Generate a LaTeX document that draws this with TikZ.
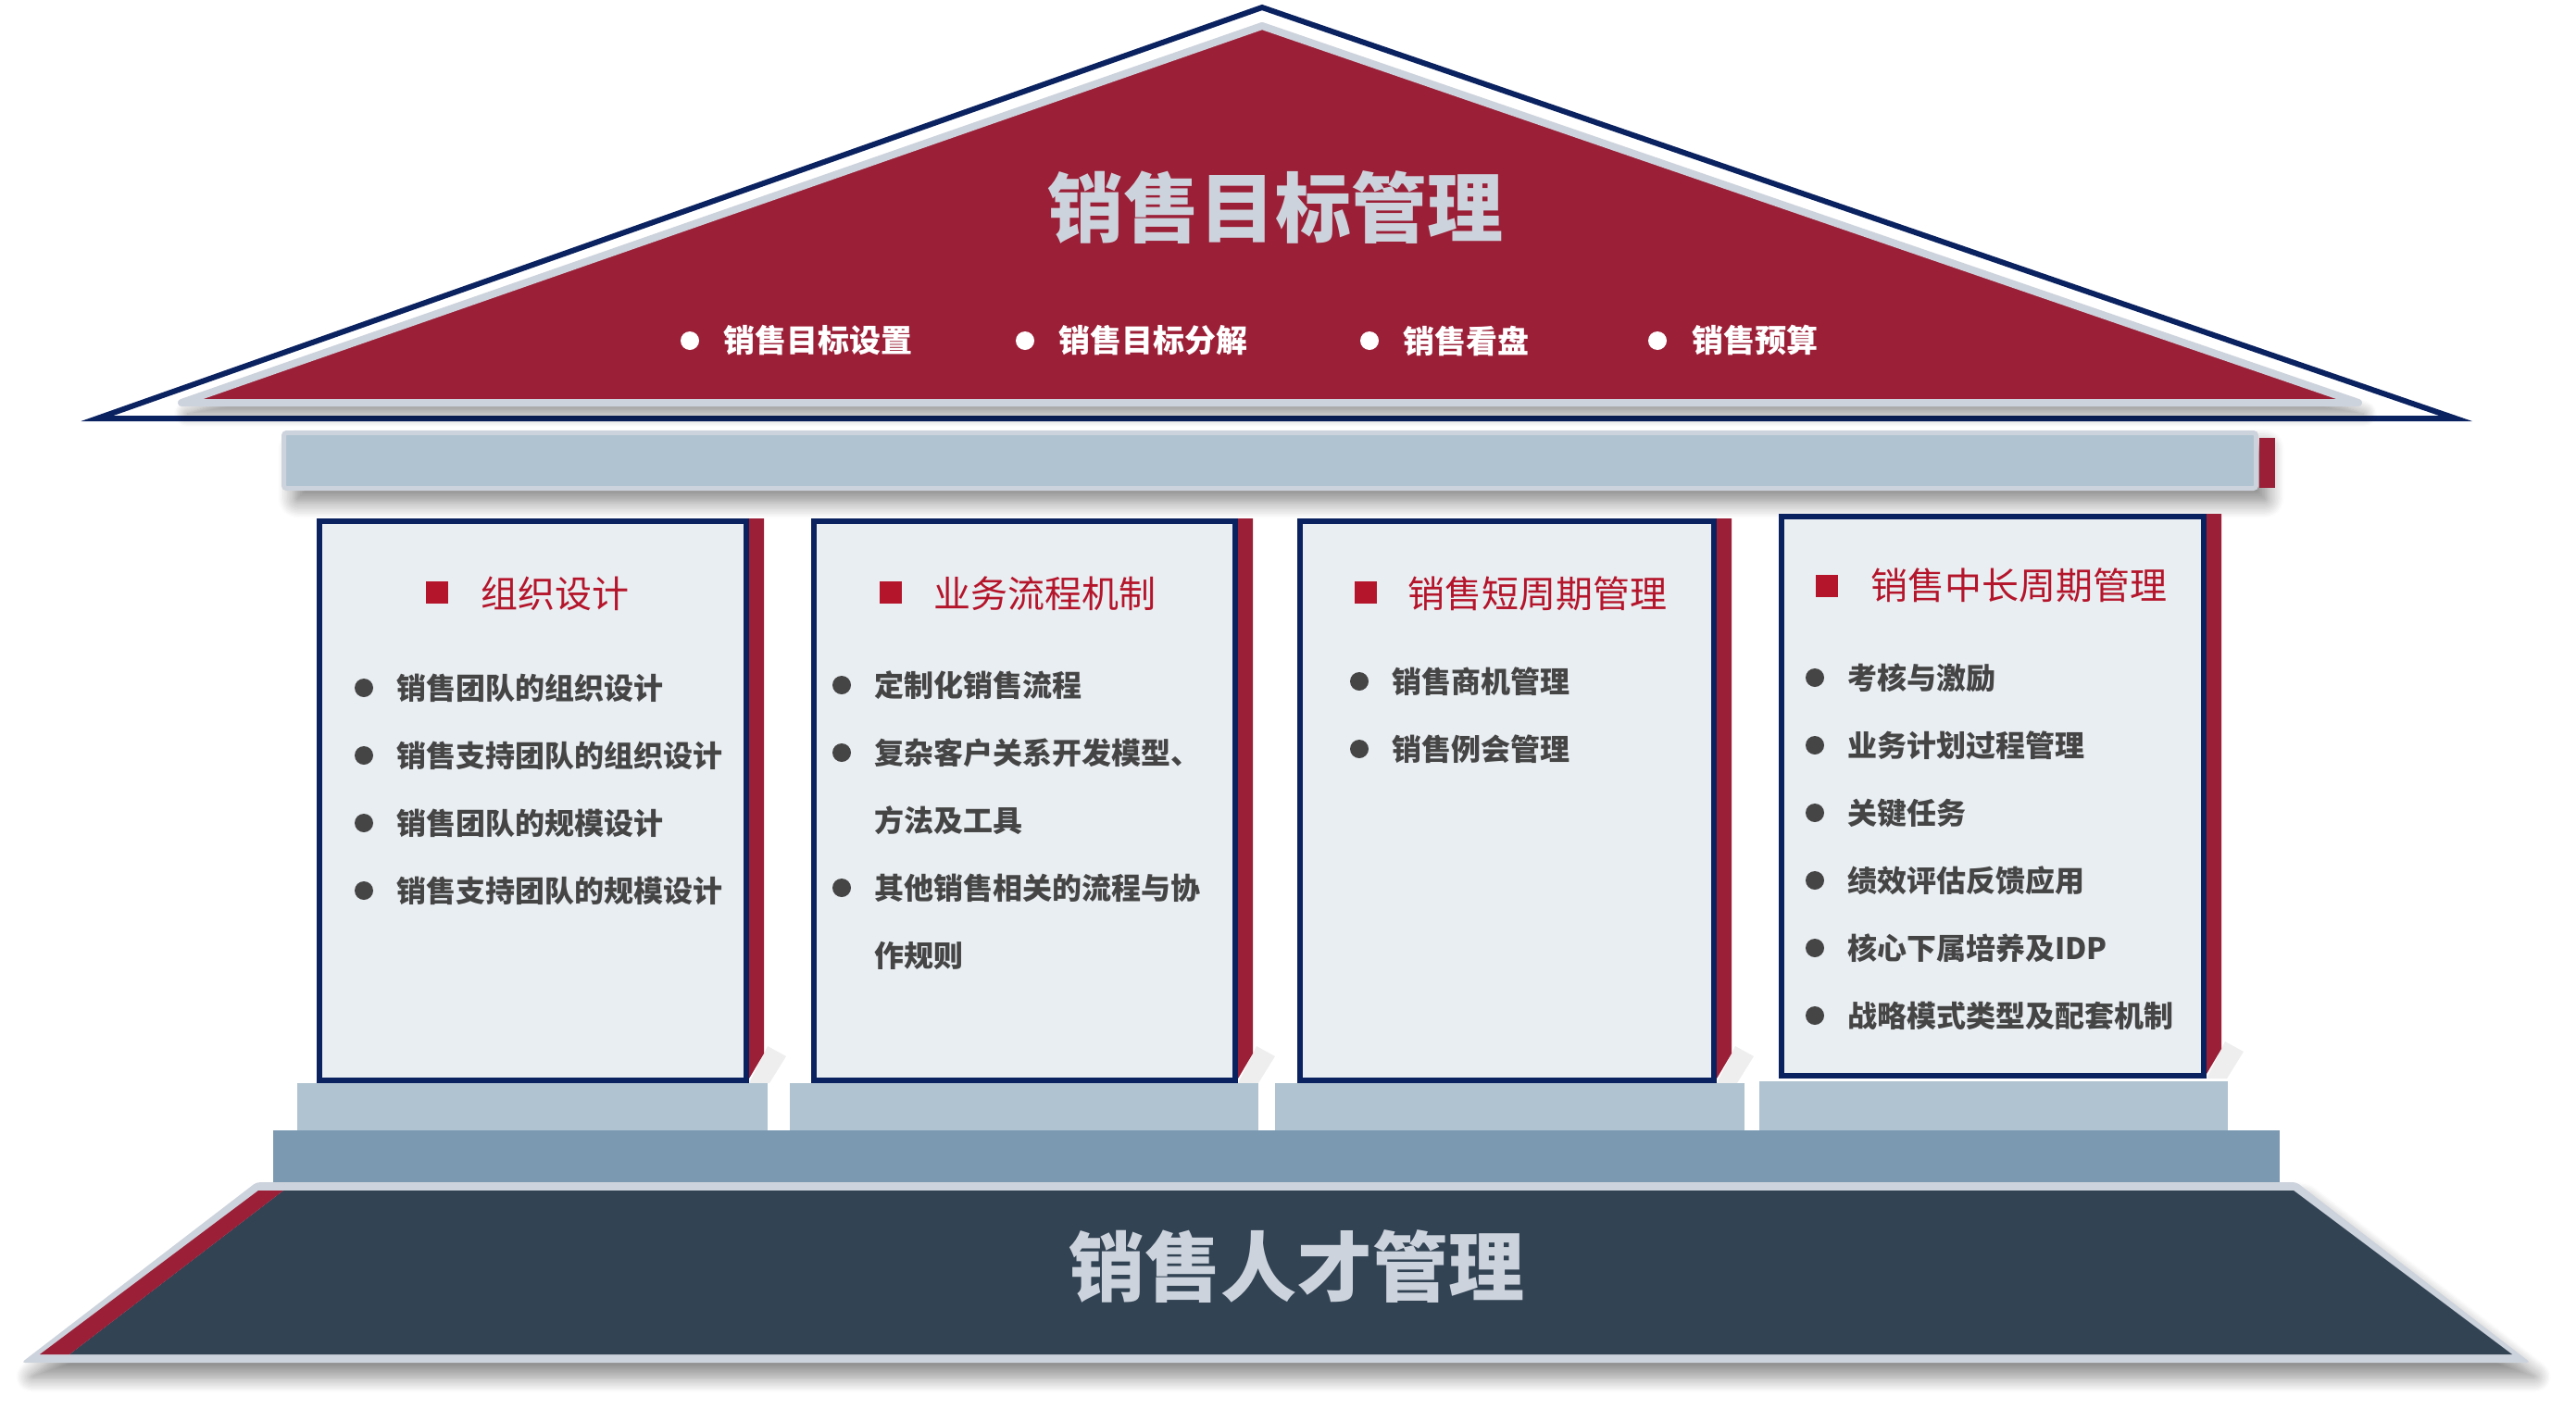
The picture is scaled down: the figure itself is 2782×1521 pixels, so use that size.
\documentclass[tikz,border=0pt]{standalone}
\usepackage{fontspec}
\newfontfamily\cjk{Noto Sans CJK SC}
\usetikzlibrary{shadows.blur}
\definecolor{navy}{HTML}{0B2260}
\definecolor{crim}{HTML}{9B1F37}
\definecolor{headred}{HTML}{B5152B}
\definecolor{lgray}{HTML}{CDD3DC}
\definecolor{beamc}{HTML}{B0C3D1}
\definecolor{stepc}{HTML}{7B9AB2}
\definecolor{found}{HTML}{324354}
\definecolor{pfill}{HTML}{E9EEF2}
\definecolor{itemc}{HTML}{454545}
\definecolor{ghost}{HTML}{EEEEEE}
\newcommand{\pillarbox}[4]{% L, R, T, B
  \fill[ghost] ({#2+20},{#4-40}) -- ({#2+40},{#4-29}) -- ({#2+22},#4) -- (#2,#4) -- cycle;
  \fill[crim] (#2,#3) -- ({#2+16},#3) -- ({#2+16},{#4-32}) -- (#2,{#4-5}) -- cycle;
  \draw[navy, line width=6pt, fill=pfill] ({#1+3},{#3+3}) rectangle ({#2-3},{#4-3});
}
\begin{document}
\begin{tikzpicture}[x=1pt,y=-1pt,
  bigtitle/.style={font=\cjk\bfseries\fontsize{82}{90}\selectfont, text=lgray, inner sep=0pt},
  roofitem/.style={font=\cjk\bfseries\fontsize{34}{40}\selectfont, text=white, anchor=west, inner sep=0pt},
  head/.style={font=\cjk\fontsize{40}{48}\selectfont, text=headred, anchor=west, inner sep=0pt},
  item/.style={font=\cjk\bfseries\fontsize{32}{38}\selectfont, text=itemc, anchor=west, inner sep=0pt},
  wdot/.style={circle, fill=white, minimum size=20pt, inner sep=0pt},
  gdot/.style={circle, fill=itemc, minimum size=20pt, inner sep=0pt},
  rsq/.style={fill=headred, minimum size=24pt, inner sep=0pt},
  softshadow/.style={blur shadow={shadow xshift=6pt, shadow yshift=-12pt, shadow blur radius=14pt, shadow opacity=45, shadow blur steps=12}}
]
\useasboundingbox (0,0) rectangle (2782,1521);

% ---------- roof ----------
\draw[navy, line width=6pt, line join=miter] (105,452) -- (1363,8) -- (2652,452) -- cycle;
\filldraw[softshadow, fill=crim, draw=lgray, line width=8pt, line join=round] (196,435) -- (1363,28) -- (2547,435) -- cycle;

% ---------- beam ----------
\filldraw[blur shadow={shadow xshift=12pt, shadow yshift=-14pt, shadow blur radius=18pt, shadow opacity=50, shadow blur steps=12},
  fill=beamc, draw=lgray, line width=5pt, rounded corners=3pt] (306.5,467.5) rectangle (2436.5,527.5);
\fill[crim] (2440,473) rectangle (2457,527);

% ---------- pillars ----------
\pillarbox{342}{809}{560}{1170}
\pillarbox{876}{1337}{560}{1170}
\pillarbox{1401}{1854}{560}{1170}
\pillarbox{1921}{2383}{555}{1165}

% ---------- foundation ----------
\fill[lgray, rounded corners=4pt, blur shadow={shadow xshift=8pt, shadow yshift=-16pt, shadow blur radius=16pt, shadow opacity=45, shadow blur steps=12}]
  (277,1277) -- (2480,1277) -- (2733,1472) -- (23,1472) -- cycle;
\fill[found] (306,1286) -- (2477,1286) -- (2713,1463) -- (75,1463) -- cycle;
\fill[crim] (279,1286) -- (306,1286) -- (75,1463) -- (43,1463) -- cycle;

% ---------- step and plinths ----------
\fill[stepc] (295,1221) rectangle (2462,1277);
\fill[beamc] (321,1170) rectangle (829,1221);
\fill[beamc] (853,1170) rectangle (1359,1221);
\fill[beamc] (1377,1170) rectangle (1884,1221);
\fill[beamc] (1900,1168) rectangle (2406,1221);

% ---------- roof texts ----------
\node[bigtitle] (rooftitle) at (1377,224) {销售目标管理};
\node[wdot] (rb1) at (745,368) {};
\node[roofitem] (rt1) at (781,368) {销售目标设置};
\node[wdot] (rb2) at (1107,368) {};
\node[roofitem] (rt2) at (1143,368) {销售目标分解};
\node[wdot] (rb3) at (1479,368) {};
\node[roofitem] (rt3) at (1515,368) {销售看盘};
\node[wdot] (rb4) at (1790,368) {};
\node[roofitem] (rt4) at (1827,368) {销售预算};

% ---------- pillar 1 ----------
\node[rsq] (s1) at (472,640) {};
\node[head] (h1) at (519,641) {组织设计};
\node[gdot] (a1b) at (393,743) {};
\node[item] (a1) at (428,743) {销售团队的组织设计};
\node[gdot] (a2b) at (393,816) {};
\node[item] (a2) at (428,816) {销售支持团队的组织设计};
\node[gdot] (a3b) at (393,889) {};
\node[item] (a3) at (428,889) {销售团队的规模设计};
\node[gdot] (a4b) at (393,962) {};
\node[item] (a4) at (428,962) {销售支持团队的规模设计};

% ---------- pillar 2 ----------
\node[rsq] (s2) at (962,640) {};
\node[head] (h2) at (1008,641) {业务流程机制};
\node[gdot] (b1b) at (909,740) {};
\node[item] (b1) at (944,740) {定制化销售流程};
\node[gdot] (b2b) at (909,813) {};
\node[item] (b2) at (944,813) {复杂客户关系开发模型、};
\node[item] (b2c) at (944,886) {方法及工具};
\node[gdot] (b3b) at (909,959) {};
\node[item] (b3) at (944,959) {其他销售相关的流程与协};
\node[item] (b3c) at (944,1032) {作规则};

% ---------- pillar 3 ----------
\node[rsq] (s3) at (1475,640) {};
\node[head] (h3) at (1520,641) {销售短周期管理};
\node[gdot] (c1b) at (1468,736) {};
\node[item] (c1) at (1503,736) {销售商机管理};
\node[gdot] (c2b) at (1468,809) {};
\node[item] (c2) at (1503,809) {销售例会管理};

% ---------- pillar 4 ----------
\node[rsq] (s4) at (1973,633) {};
\node[head] (h4) at (2020,632) {销售中长周期管理};
\node[gdot] (d1b) at (1960,732) {};
\node[item] (d1) at (1995,732) {考核与激励};
\node[gdot] (d2b) at (1960,805) {};
\node[item] (d2) at (1995,805) {业务计划过程管理};
\node[gdot] (d3b) at (1960,878) {};
\node[item] (d3) at (1995,878) {关键任务};
\node[gdot] (d4b) at (1960,951) {};
\node[item] (d4) at (1995,951) {绩效评估反馈应用};
\node[gdot] (d5b) at (1960,1024) {};
\node[item] (d5) at (1995,1024) {核心下属培养及IDP};
\node[gdot] (d6b) at (1960,1097) {};
\node[item] (d6) at (1995,1097) {战略模式类型及配套机制};

% ---------- foundation title ----------
\node[bigtitle] (basetitle) at (1400,1368) {销售人才管理};
\end{tikzpicture}
\end{document}
